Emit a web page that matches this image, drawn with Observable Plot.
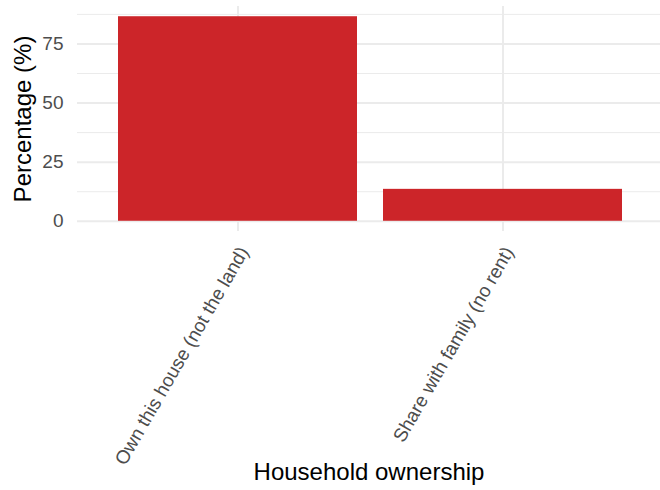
<!DOCTYPE html>
<html>
<head>
<meta charset="utf-8">
<script src="https://cdn.jsdelivr.net/npm/d3@7"></script>
<script src="https://cdn.jsdelivr.net/npm/@observablehq/plot@0.6"></script>
<style>
  html, body { margin: 0; padding: 0; background: #fff; }
  #chart svg { display: block; }
</style>
</head>
<body>
<div id="chart"></div>
<script>
const categories = ["Own this house (not the land)", "Share with family (no rent)"];
const percentages = [86.5, 13.5];
const majorTicks = [0, 25, 50, 75];
const minorTicks = [12.5, 37.5, 62.5, 87.5];

const data = categories.map((c, i) => ({category: c, value: percentages[i]}));
const maxV = d3.max(percentages);
const pad = maxV * 0.05;

const gridColor = "#EBEBEB";
const chart = Plot.plot({
  width: 660,
  height: 490,
  marginLeft: 77,
  marginRight: 0,
  marginTop: 6,
  marginBottom: 259,
  style: {fontFamily: "'Liberation Sans', Arial, sans-serif", background: "#fff"},
  x: {domain: categories, range: [77, 662], paddingInner: 0.1, paddingOuter: 0.15},
  y: {domain: [-pad, maxV + pad]},
  marks: [
    Plot.ruleY(minorTicks, {stroke: gridColor, strokeWidth: 1}),
    Plot.ruleY(majorTicks, {stroke: gridColor, strokeWidth: 2}),
    Plot.ruleX(categories, {x: d => d, stroke: gridColor, strokeWidth: 2}),
    Plot.barY(data, {x: "category", y1: 0, y2: "value", fill: "#CC2529"}),
    Plot.axisY(majorTicks, {
      tickSize: 0, tickPadding: 14, fontSize: 19, color: "#4D4D4D",
      label: null
    }),
    Plot.text(["Percentage (%)"], {
      frameAnchor: "left", textAnchor: "middle", dx: -54, rotate: -90, fontSize: 24, fill: "#000", text: d => d
    }),
    Plot.axisX({
      tickSize: 0, tickPadding: 8, tickRotate: -60, fontSize: 19, color: "#4D4D4D",
      dx: 6, dy: 9, label: null
    }),
    Plot.text(["Household ownership"], {
      frameAnchor: "bottom", dy: 248, fontSize: 24, fill: "#000", text: d => d
    })
  ]
});
document.getElementById("chart").appendChild(chart);
</script>
</body>
</html>
